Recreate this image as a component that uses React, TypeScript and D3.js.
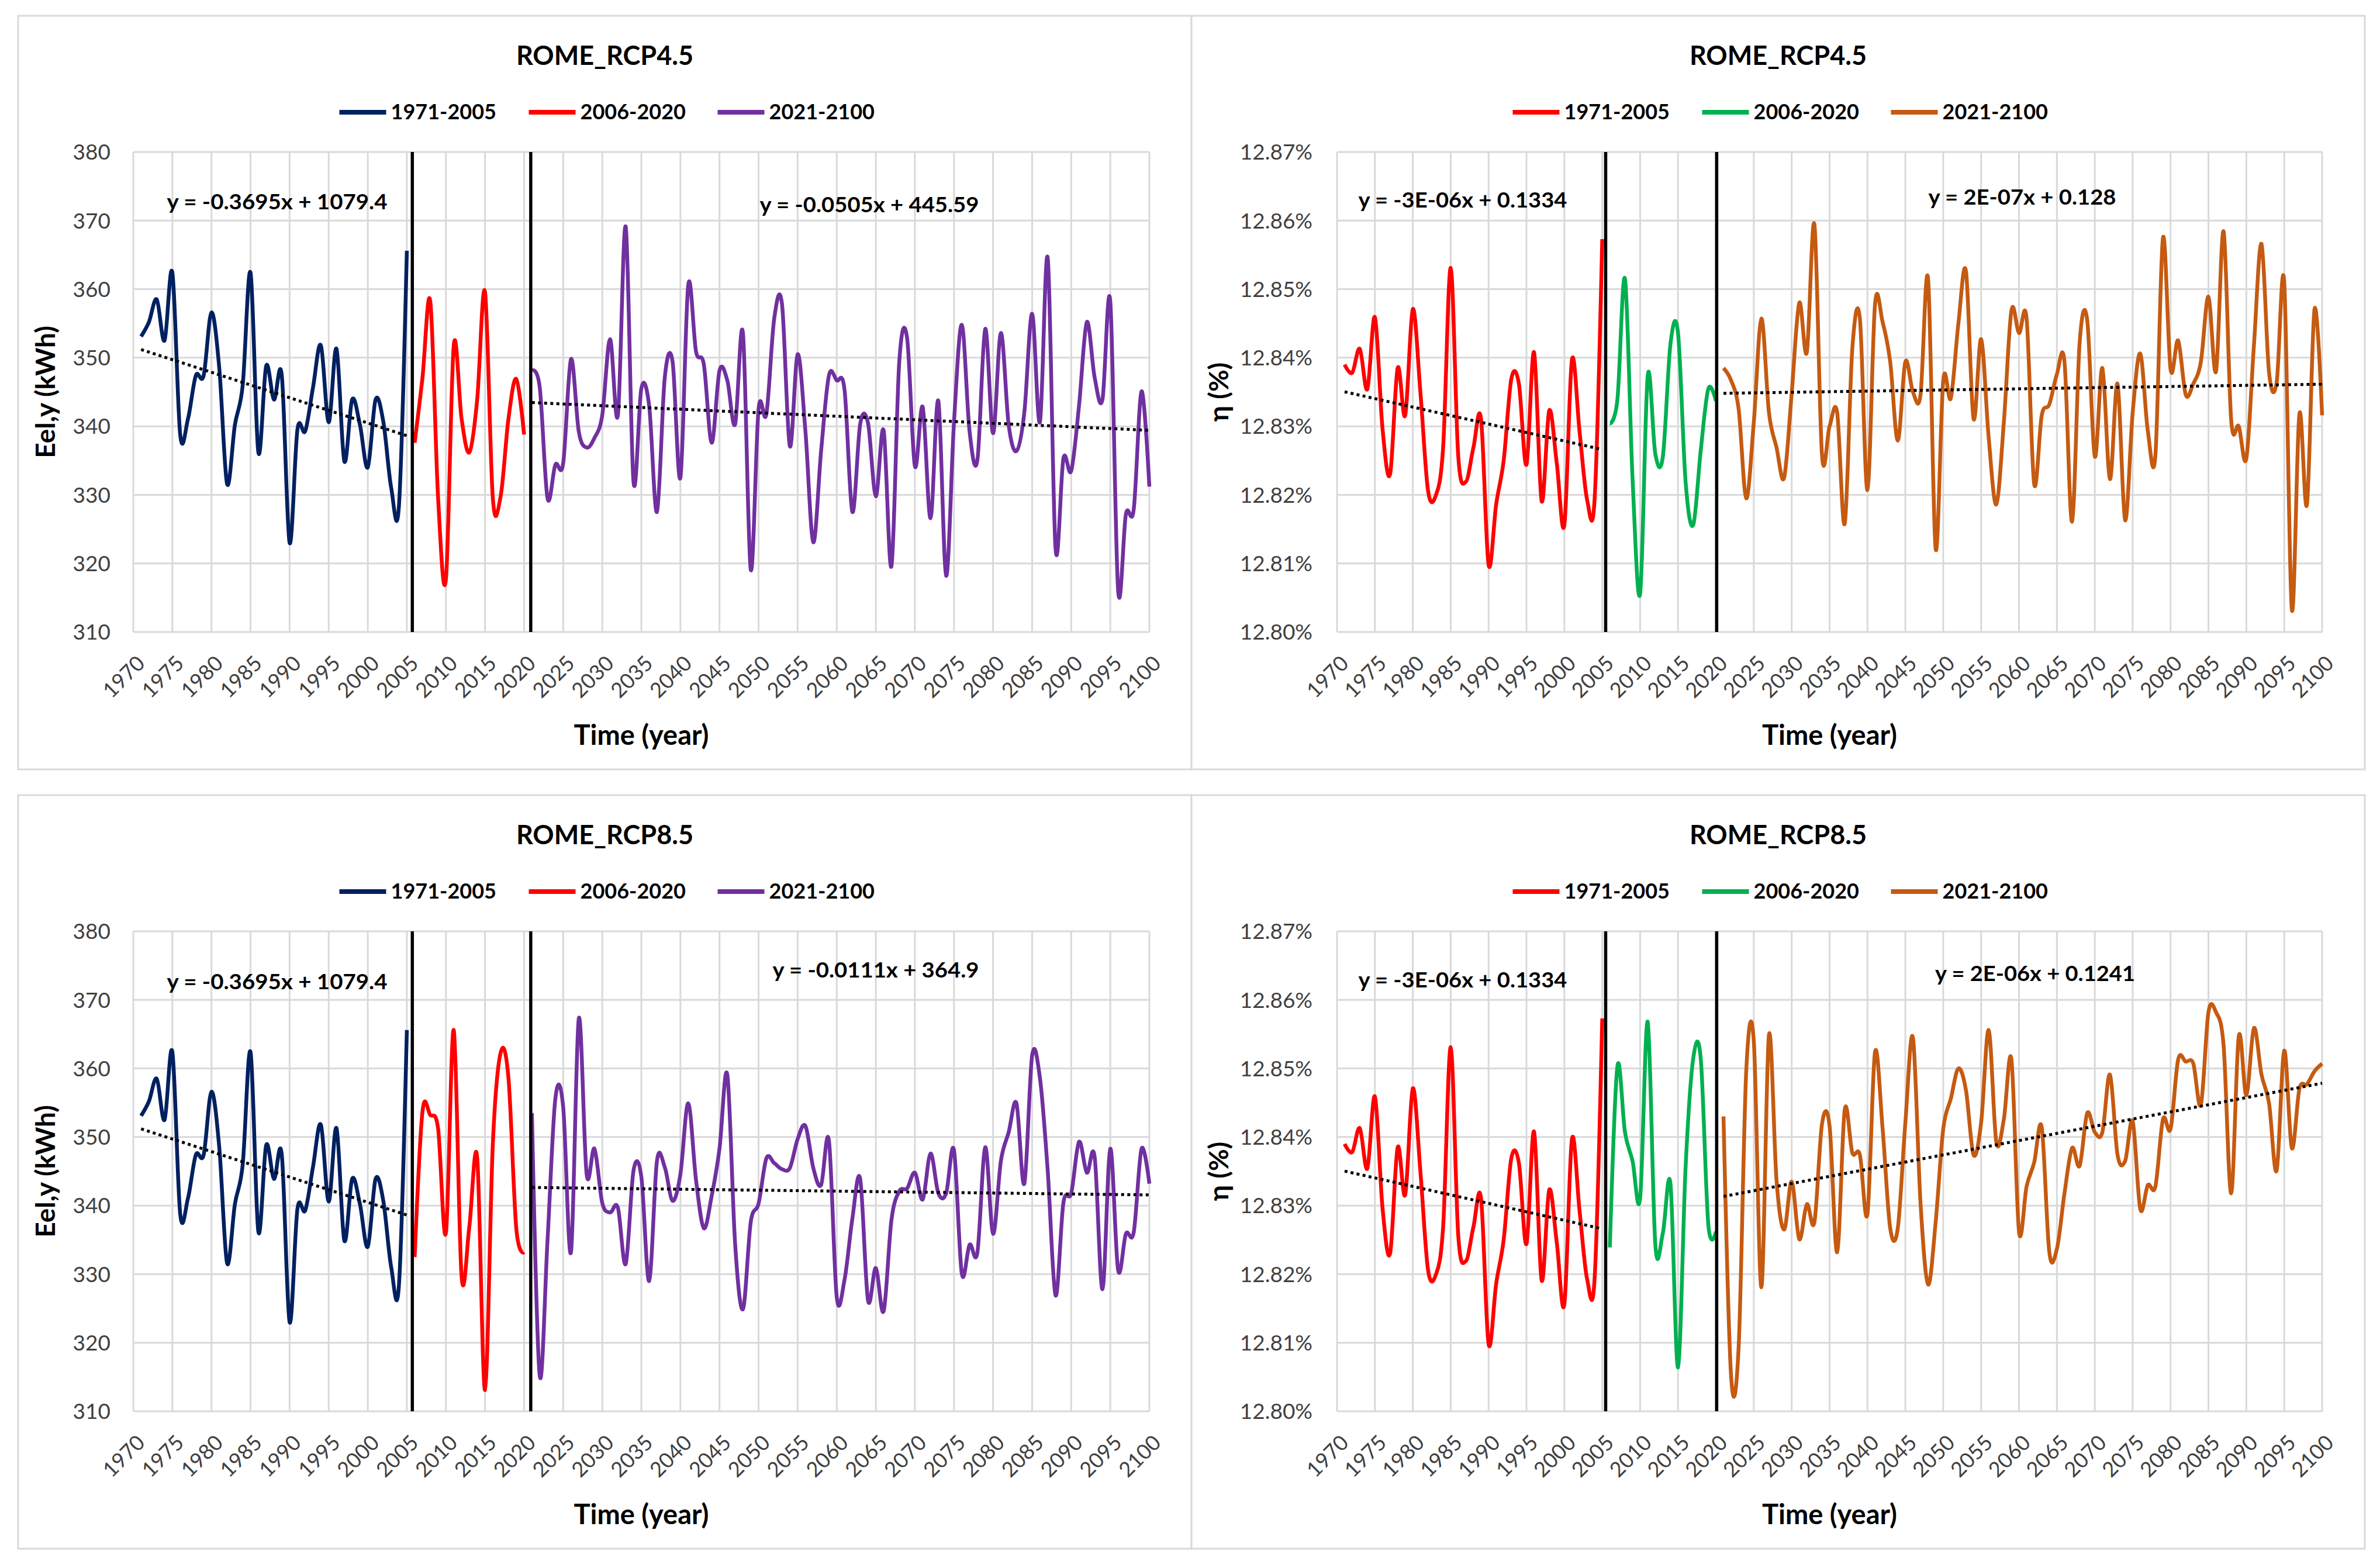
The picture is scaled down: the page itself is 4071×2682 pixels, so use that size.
import React from 'react';
import * as d3 from 'd3';

// ---------- data ----------
const X_TICKS = d3.range(1970, 2101, 5);
const EEL_TICKS = [310, 320, 330, 340, 350, 360, 370, 380];
const ETA_TICKS = [12.8, 12.81, 12.82, 12.83, 12.84, 12.85, 12.86, 12.87];
const LEGEND_LABELS = ['1971-2005', '2006-2020', '2021-2100'];

const HIST_YEARS = d3.range(1971, 2006);
const MID_YEARS = d3.range(2006, 2021);
const FUT_YEARS = d3.range(2021, 2101);

const EEL_HIST = [
  353.1, 355.2, 358.5, 352.5, 362.4, 338.8, 341.1, 347.4, 347.4, 356.6,
  348.5, 331.6, 340.2, 346.0, 362.4, 336.2, 348.8, 343.9, 347.4, 323.0,
  339.5, 339.3, 345.7, 351.8, 340.6, 351.3, 334.9, 343.9, 340.2, 334.0,
  343.9, 340.6, 331.0, 328.6, 365.6,
];
const EEL_RCP45_MID = [
  337.6, 347.1, 358.2, 329.5, 317.7, 351.8, 341.1, 336.2, 343.9, 359.6,
  329.5, 329.8, 341.1, 346.9, 338.8,
];
const EEL_RCP45_FUT = [
  348.1, 345.7, 329.5, 334.4, 334.6, 349.8, 339.2, 336.9, 338.3, 341.6,
  352.7, 341.6, 369.1, 331.9, 345.5, 343.0, 327.5, 347.1, 349.4, 332.5,
  360.6, 350.9, 349.0, 337.6, 348.1, 346.7, 340.3, 353.6, 319.1, 342.5,
  341.8, 355.7, 357.8, 337.1, 350.5, 339.2, 323.1, 336.4, 347.4, 346.7,
  345.3, 327.5, 340.3, 340.5, 329.8, 339.4, 319.6, 349.4, 352.9, 334.2,
  342.8, 326.6, 343.7, 318.2, 340.5, 354.8, 339.2, 335.1, 354.2, 339.0,
  353.6, 340.2, 336.4, 342.0, 356.4, 340.6, 364.5, 322.1, 335.3, 333.5,
  343.0, 355.2, 347.1, 343.9, 358.2, 316.1, 327.2, 327.9, 345.1, 331.2,
];
const EEL_RCP85_MID = [
  332.5, 353.7, 353.2, 351.2, 336.0, 365.6, 329.7, 337.0, 347.0, 313.1,
  349.0, 362.3, 358.6, 336.7, 333.2,
];
const EEL_RCP85_FUT = [
  353.5, 315.2, 335.0, 355.6, 354.4, 333.2, 367.3, 344.6, 348.3, 340.4,
  339.0, 339.7, 331.5, 345.1, 344.2, 329.0, 346.5, 345.6, 340.7, 344.6,
  354.9, 343.7, 336.7, 341.4, 348.3, 359.1, 334.4, 324.9, 337.6, 340.3,
  346.9, 346.2, 345.3, 345.5, 349.7, 351.6, 345.5, 343.0, 349.5, 326.7,
  329.2, 338.1, 343.9, 326.2, 330.9, 324.6, 337.9, 342.1, 342.5, 344.8,
  340.9, 347.6, 341.8, 341.8, 348.1, 330.1, 334.3, 333.2, 348.5, 335.9,
  346.5, 350.7, 354.9, 343.2, 361.9, 358.6, 345.0, 326.9, 340.4, 341.8,
  349.3, 344.8, 347.1, 327.8, 348.3, 330.6, 335.9, 336.1, 348.3, 343.2,
];

const ETA_HIST = [
  12.839, 12.8378, 12.8413, 12.8354, 12.8459, 12.8297, 12.823, 12.8385, 12.8316, 12.8471,
  12.835, 12.8207, 12.8198, 12.8269, 12.8531, 12.8256, 12.8219, 12.8269, 12.8311, 12.8098,
  12.8186, 12.8251, 12.8369, 12.8362, 12.8244, 12.8408, 12.8191, 12.8323, 12.8246, 12.8156,
  12.8397, 12.8293, 12.8193, 12.8195, 12.8573,
];
const ETA_RCP45_MID = [
  12.8304, 12.8339, 12.8515, 12.8223, 12.8056, 12.8374, 12.826, 12.8256, 12.842, 12.8436,
  12.8219, 12.8156, 12.8265, 12.8355, 12.8337,
];
const ETA_RCP45_FUT = [
  12.8385, 12.8367, 12.8325, 12.8195, 12.8306, 12.8457, 12.832, 12.8269, 12.8225, 12.8348,
  12.848, 12.8408, 12.8594, 12.8258, 12.83, 12.832, 12.8158, 12.8413, 12.8457, 12.8207,
  12.8478, 12.8452, 12.8394, 12.8279, 12.8394, 12.835, 12.8346, 12.8515, 12.8121, 12.8367,
  12.8341, 12.845, 12.8526, 12.8311, 12.8427, 12.8283, 12.8186, 12.8306, 12.8469, 12.8436,
  12.8457, 12.8216, 12.8316, 12.8332, 12.8376, 12.8394, 12.8161, 12.8422, 12.8455, 12.8256,
  12.8385, 12.8223, 12.8362, 12.8163, 12.832, 12.8406, 12.8293, 12.8258, 12.8575, 12.8383,
  12.8425, 12.8346, 12.8362, 12.8394, 12.8489, 12.838, 12.8584, 12.8309, 12.83, 12.8253,
  12.8418, 12.8566, 12.8378, 12.8364, 12.851, 12.8033, 12.8318, 12.8186, 12.8471, 12.8316,
];
const ETA_RCP85_MID = [
  12.8239, 12.8503, 12.8407, 12.8365, 12.8311, 12.8568, 12.8244, 12.826, 12.8332, 12.8064,
  12.8356, 12.8514, 12.8514, 12.8272, 12.8262,
];
const ETA_RCP85_FUT = [
  12.843, 12.8052, 12.8094, 12.8496, 12.854, 12.8181, 12.8549, 12.8337, 12.8265, 12.8335,
  12.8251, 12.8302, 12.8276, 12.8419, 12.8416, 12.8232, 12.844, 12.8377, 12.8374, 12.8288,
  12.8524, 12.8412, 12.8267, 12.8267, 12.8421, 12.8545, 12.8304, 12.8185, 12.8276, 12.8412,
  12.8456, 12.85, 12.8468, 12.8374, 12.8421, 12.8556, 12.8393, 12.8426, 12.8513, 12.8262,
  12.8328, 12.8363, 12.8414, 12.8232, 12.8237, 12.8318, 12.8384, 12.8358, 12.8435, 12.8407,
  12.8407, 12.8491, 12.8374, 12.8365, 12.8423, 12.8295, 12.833, 12.8328, 12.8426, 12.8412,
  12.8513, 12.851, 12.8507, 12.8447, 12.8582, 12.8582, 12.8533, 12.8318, 12.8547, 12.8461,
  12.8559, 12.8491, 12.8449, 12.8351, 12.8526, 12.8384, 12.847, 12.8477, 12.8496, 12.8507,
];

const EEL_COLORS = ['#002060', '#FF0000', '#7030A0'];
const ETA_COLORS = ['#FF0000', '#00B050', '#C55A11'];

// ---------- layout ----------
const W = 4071;
const H = 2682;
const FONT = "Lato, 'Open Sans', 'Liberation Sans', sans-serif";
const GRID = '#D9D9D9';

type Eq = { text: string; dx: number; dy: number; len: number };
type PanelCfg = {
  x0: number; y0: number; x1: number; y1: number;
  left: boolean; title: string;
  hist: number[]; mid: number[]; fut: number[];
  colors: string[]; sep: number[];
  eqs: Eq[];
};

const PANELS: PanelCfg[] = [
  {
    x0: 31, y0: 27, x1: 2038, y1: 1316, left: true, title: 'ROME_RCP4.5',
    hist: EEL_HIST, mid: EEL_RCP45_MID, fut: EEL_RCP45_FUT, colors: EEL_COLORS,
    sep: [2005.7, 2020.85],
    eqs: [
      { text: 'y = -0.3695x + 1079.4', dx: 246, dy: 85, len: 377 },
      { text: 'y = -0.0505x + 445.59', dx: 1259, dy: 90, len: 375 },
    ],
  },
  {
    x0: 2038, y0: 27, x1: 4045, y1: 1316, left: false, title: 'ROME_RCP4.5',
    hist: ETA_HIST, mid: ETA_RCP45_MID, fut: ETA_RCP45_FUT, colors: ETA_COLORS,
    sep: [2005.45, 2020.1],
    eqs: [
      { text: 'y = -3E-06x + 0.1334', dx: 215, dy: 82, len: 357 },
      { text: 'y = 2E-07x + 0.128', dx: 1172, dy: 77, len: 321 },
    ],
  },
  {
    x0: 31, y0: 1360, x1: 2038, y1: 2649, left: true, title: 'ROME_RCP8.5',
    hist: EEL_HIST, mid: EEL_RCP85_MID, fut: EEL_RCP85_FUT, colors: EEL_COLORS,
    sep: [2005.7, 2020.85],
    eqs: [
      { text: 'y = -0.3695x + 1079.4', dx: 246, dy: 86, len: 377 },
      { text: 'y = -0.0111x + 364.9', dx: 1270, dy: 66, len: 353 },
    ],
  },
  {
    x0: 2038, y0: 1360, x1: 4045, y1: 2649, left: false, title: 'ROME_RCP8.5',
    hist: ETA_HIST, mid: ETA_RCP85_MID, fut: ETA_RCP85_FUT, colors: ETA_COLORS,
    sep: [2005.45, 2020.1],
    eqs: [
      { text: 'y = -3E-06x + 0.1334', dx: 215, dy: 83, len: 357 },
      { text: 'y = 2E-06x + 0.1241', dx: 1194, dy: 72, len: 342 },
    ],
  },
];

function fit(xs: number[], ys: number[]) {
  const mx = d3.mean(xs) as number;
  const my = d3.mean(ys) as number;
  const sxy = d3.sum(xs.map((x, i) => (x - mx) * (ys[i] - my)));
  const sxx = d3.sum(xs.map((x) => (x - mx) * (x - mx)));
  const b = sxy / sxx;
  return { b, a: my - b * mx };
}

function Panel({ cfg }: { cfg: PanelCfg }) {
  const { x0, y0, x1, y1, left } = cfg;
  const plotL = left ? x0 + 197 : x0 + 249;
  const plotR = left ? x0 + 1935 : x0 + 1934;
  const plotT = y0 + 233;
  const plotB = y0 + 1054;
  const cx = (x0 + x1) / 2;

  const x = d3.scaleLinear().domain([1970, 2100]).range([plotL, plotR]);
  const yTicks = left ? EEL_TICKS : ETA_TICKS;
  const y = d3.scaleLinear().domain([yTicks[0], yTicks[yTicks.length - 1]]).range([plotB, plotT]);
  const fmt = left ? (v: number) => d3.format('d')(v) : (v: number) => d3.format('.2f')(v) + '%';

  const line = d3
    .line<[number, number]>()
    .x((d) => x(d[0]))
    .y((d) => y(d[1]))
    .curve(d3.curveCardinal.tension(0));

  const series: [number[], number[]][] = [
    [HIST_YEARS, cfg.hist],
    [MID_YEARS, cfg.mid],
    [FUT_YEARS, cfg.fut],
  ];

  const trends = [series[0], series[2]].map(([xs, ys]) => {
    const { a, b } = fit(xs, ys);
    const xa = xs[0];
    const xb = xs[xs.length - 1];
    return { xa, xb, ya: a + b * xa, yb: a + b * xb };
  });

  const legendOffsets = [-454, -130, 193];

  return (
    <g>
      <rect x={x0} y={y0} width={x1 - x0} height={y1 - y0} fill="#fff" stroke={GRID} strokeWidth={3} />
      {/* title */}
      <text x={cx} y={y0 + 84} textAnchor="middle" fontSize={45} fontWeight={700} fill="#000">
        {cfg.title}
      </text>
      {/* legend */}
      {LEGEND_LABELS.map((lab, i) => (
        <g key={lab}>
          <line
            x1={cx + legendOffsets[i]}
            x2={cx + legendOffsets[i] + 80}
            y1={y0 + 165}
            y2={y0 + 165}
            stroke={cfg.colors[i]}
            strokeWidth={8}
          />
          <text x={cx + legendOffsets[i] + 88} y={y0 + 177} fontSize={36} fontWeight={700} fill="#000">
            {lab}
          </text>
        </g>
      ))}
      {/* gridlines */}
      {X_TICKS.map((t) => (
        <line key={'vx' + t} x1={x(t)} x2={x(t)} y1={plotT} y2={plotB} stroke={GRID} strokeWidth={3} />
      ))}
      {yTicks.map((t) => (
        <line key={'hy' + t} x1={plotL} x2={plotR} y1={y(t)} y2={y(t)} stroke={GRID} strokeWidth={3} />
      ))}
      {/* y tick labels */}
      {yTicks.map((t) => (
        <text
          key={'yl' + t}
          x={plotL - (left ? 39 : 42)}
          y={y(t)}
          dy="0.36em"
          textAnchor="end"
          fontSize={37}
          fill="#404040"
        >
          {fmt(t)}
        </text>
      ))}
      {/* x tick labels */}
      {X_TICKS.map((t) => (
        <text
          key={'xl' + t}
          transform={`translate(${x(t) + 22},${plotB + 56}) rotate(-45)`}
          textAnchor="end"
          fontSize={36}
          fill="#404040"
        >
          {t}
        </text>
      ))}
      {/* axis titles */}
      <text
        x={(plotL + plotR) / 2}
        y={plotB + 193}
        textAnchor="middle"
        fontSize={47}
        fontWeight={700}
        fill="#000"
      >
        Time (year)
      </text>
      <text
        transform={`translate(${x0 + 47},${(plotT + plotB) / 2}) rotate(-90)`}
        dy="0.35em"
        textAnchor="middle"
        fontSize={46}
        fontWeight={700}
        fill="#000"
      >
        {left ? 'Eel,y (kWh)' : 'η (%)'}
      </text>
      {/* data lines */}
      {series.map(([xs, ys], i) => (
        <path
          key={'s' + i}
          d={line(xs.map((v, k) => [v, ys[k]] as [number, number])) as string}
          fill="none"
          stroke={cfg.colors[i]}
          strokeWidth={6.5}
          strokeLinejoin="round"
        />
      ))}
      {/* separators */}
      {cfg.sep.map((s) => (
        <line key={'sep' + s} x1={x(s)} x2={x(s)} y1={plotT} y2={plotB} stroke="#000" strokeWidth={5.5} />
      ))}
      {/* trendlines */}
      {trends.map((t, i) => (
        <line
          key={'tr' + i}
          x1={x(t.xa)}
          x2={x(t.xb)}
          y1={y(t.ya)}
          y2={y(t.yb)}
          stroke="#000"
          strokeWidth={5}
          strokeDasharray="5 5.5"
        />
      ))}
      {/* equations */}
      {cfg.eqs.map((e) => (
        <text
          key={e.text + e.dx}
          x={plotL + e.dx}
          y={plotT + e.dy}
          dy="0.35em"
          textAnchor="middle"
          fontSize={36}
          fontWeight={700}
          fill="#000"
          textLength={e.len}
          lengthAdjust="spacingAndGlyphs"
        >
          {e.text}
        </text>
      ))}
    </g>
  );
}

export default function App() {
  return (
    <svg
      width={W}
      height={H}
      viewBox={`0 0 ${W} ${H}`}
      style={{ position: 'absolute', left: 0, top: 0, display: 'block', background: '#fff' }}
      fontFamily={FONT}
    >
      <rect x={0} y={0} width={W} height={H} fill="#fff" />
      {PANELS.map((p, i) => (
        <Panel key={i} cfg={p} />
      ))}
    </svg>
  );
}
